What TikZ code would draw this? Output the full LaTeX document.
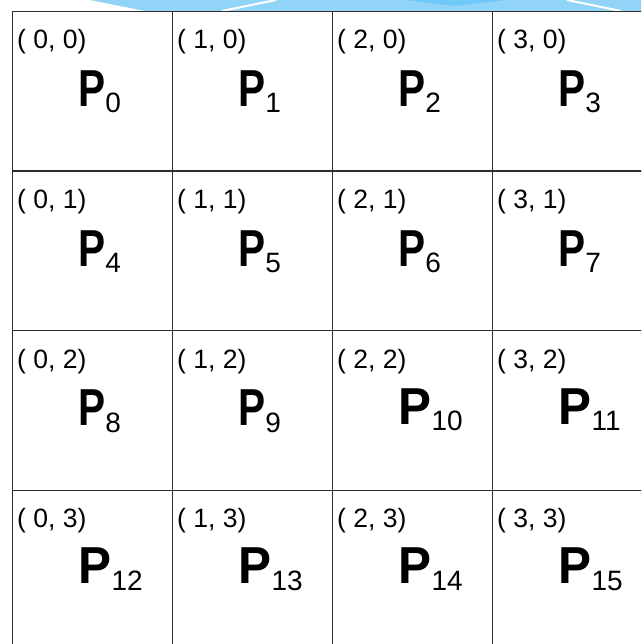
\documentclass[tikz,border=0pt]{standalone}
\usepackage{fontspec}
\setmainfont{Liberation Sans}
\usepackage{graphicx}
\definecolor{bannerblue}{RGB}{146,212,248}
\definecolor{bannerdark}{RGB}{112,200,248}
\definecolor{gridline}{RGB}{45,45,45}
\newcommand{\pcell}[3]{\scalebox{#2}[1]{\fontsize{52}{52}\selectfont\bfseries P}\kern#3\raisebox{-6.5pt}{\fontsize{28}{28}\selectfont #1}}
\begin{document}
\begin{tikzpicture}[x=1pt,y=-1pt,
  cell/.style={draw=gridline, line width=1.3pt, minimum width=160pt, minimum height=159.5pt, inner sep=0pt, anchor=north west},
  coordlabel/.style={anchor=base west, inner sep=0pt, font=\fontsize{26.5}{26.5}\selectfont},
  pname/.style={anchor=base west, inner sep=0pt}]
\useasboundingbox (0,0) rectangle (641,644);
\clip (0,0) rectangle (641,644);
% top banner
\fill[bannerblue] (90,0) -- (641,0) -- (641,11) -- (145,11) -- cycle;
\fill[bannerdark] (405,0) -- (505,0) -- (455,6) -- cycle;
\draw[white, line width=2pt] (222,11) -- (276,0);
\draw[white, line width=2pt] (567,0) -- (621,11);
% grid
\foreach \row in {0,...,3} {
  \foreach \col in {0,...,3} {
    \pgfmathtruncatemacro\n{4*\row+\col}
    \node[cell] (c\n) at ({12+160*\col},{11+159.5*\row}) {};
    \node[coordlabel] (l\n) at ({17+160*\col},{49+159.5*\row}) {( \col, \row)};
    \ifnum\n<10
      \node[pname] (p\n) at ({78+160*\col},{106.5+159.5*\row}) {\pcell{\n}{0.78}{0pt}};
    \else
      \node[pname] (p\n) at ({78.5+160*\col},{105+159.5*\row}) {\pcell{\n}{0.95}{0pt}};
    \fi
  }
}
\end{tikzpicture}
\end{document}
